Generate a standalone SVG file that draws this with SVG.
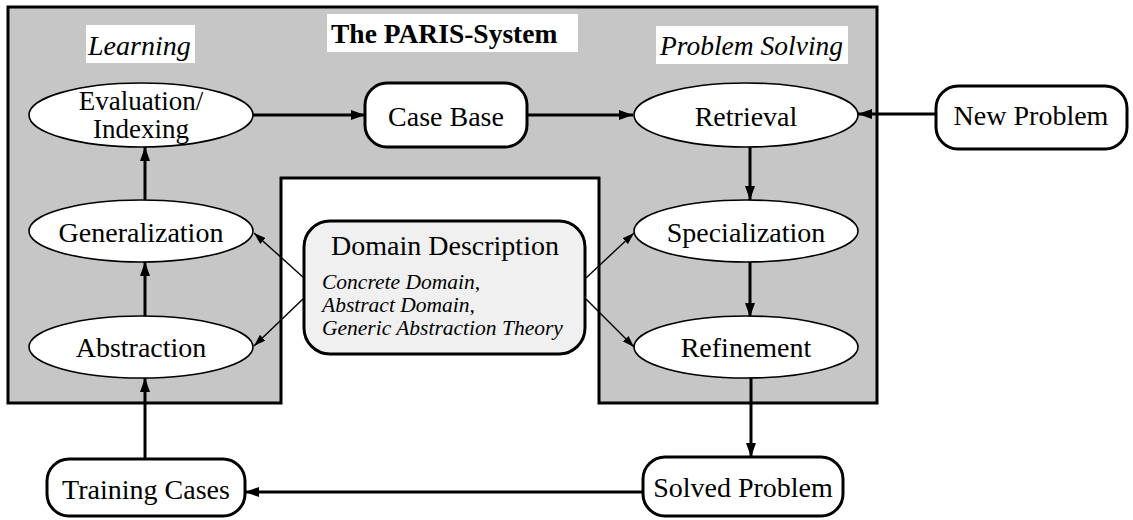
<svg xmlns="http://www.w3.org/2000/svg" width="1133" height="520" viewBox="0 0 1133 520" font-family="'Liberation Serif', 'Times New Roman', Times, serif">
<style>
text{font-family:'Liberation Serif','Times New Roman',Times,serif;fill:#000}
.lbl{font-size:28px;text-anchor:middle}
.it{font-size:21.5px;font-style:italic}
.ell{fill:#fff;stroke:#000;stroke-width:1.6}
.box{fill:#fff;stroke:#000;stroke-width:3}
.thick{stroke:#000;stroke-width:3;fill:none;marker-end:url(#ah)}
.thin{stroke:#000;stroke-width:1.4;fill:none;marker-end:url(#ahs)}
</style>
<defs>
<marker id="ah" viewBox="0 0 14 10" refX="14" refY="5" markerWidth="14" markerHeight="10" markerUnits="userSpaceOnUse" orient="auto"><path d="M0,0L14,5L0,10z" fill="#000"/></marker>
<marker id="ahs" viewBox="0 0 12 8" refX="12" refY="4" markerWidth="12" markerHeight="8" markerUnits="userSpaceOnUse" orient="auto"><path d="M0,0L12,4L0,8z" fill="#000"/></marker>
</defs>
<rect width="1133" height="520" fill="#fff"/>
<g id="system">
<path d="M8,7H877V403H599V178H281V403H8Z" fill="#c6c6c6" stroke="#000" stroke-width="3" stroke-linejoin="miter"/>
<rect x="327" y="14" width="251" height="38" fill="#fff"/>
<text x="331" y="43" style="font-size:27.5px;font-weight:bold">The PARIS-System</text>
<rect x="86" y="25" width="109" height="38" fill="#fff"/>
<text x="88" y="55" style="font-size:28px;font-style:italic">Learning</text>
<rect x="656" y="26" width="192" height="38" fill="#fff"/>
<text x="660" y="55" style="font-size:27.5px;font-style:italic">Problem Solving</text>
</g>
<g id="connectors">
<line class="thick" x1="253" y1="115" x2="365" y2="115"/>
<line class="thick" x1="527" y1="115" x2="633" y2="115"/>
<line class="thick" x1="936" y1="114" x2="858" y2="114"/>
<line class="thick" x1="750" y1="147" x2="750" y2="200"/>
<line class="thick" x1="750" y1="262" x2="750" y2="317"/>
<line class="thick" x1="751" y1="378" x2="751" y2="457"/>
<line class="thick" x1="643" y1="492" x2="245" y2="492"/>
<line class="thick" x1="145" y1="459" x2="145" y2="378"/>
<line class="thick" x1="145" y1="317" x2="145" y2="262"/>
<line class="thick" x1="145" y1="200" x2="145" y2="147"/>
<line class="thin" x1="304" y1="278" x2="254" y2="233"/>
<line class="thin" x1="304" y1="298" x2="254" y2="346"/>
<line class="thin" x1="586" y1="278" x2="634" y2="233"/>
<line class="thin" x1="586" y1="299" x2="634" y2="347"/>
</g>
<g id="evaluation">
<ellipse class="ell" cx="141" cy="115" rx="112" ry="32"/>
<text class="lbl" x="141" y="110" style="font-size:27px">Evaluation/</text>
<text class="lbl" x="141" y="138" style="font-size:27px">Indexing</text>
</g>
<g id="casebase">
<rect class="box" x="365" y="83" width="162" height="64" rx="22"/>
<text class="lbl" x="446" y="126">Case Base</text>
</g>
<g id="retrieval">
<ellipse class="ell" cx="746" cy="115" rx="112" ry="32"/>
<text class="lbl" x="746" y="126">Retrieval</text>
</g>
<g id="newproblem">
<rect class="box" x="936" y="86" width="191" height="63" rx="22"/>
<text class="lbl" x="1031" y="125">New Problem</text>
</g>
<g id="generalization">
<ellipse class="ell" cx="141" cy="231" rx="112" ry="31"/>
<text class="lbl" x="141" y="242">Generalization</text>
</g>
<g id="abstraction">
<ellipse class="ell" cx="141" cy="347" rx="112" ry="31"/>
<text class="lbl" x="141" y="357">Abstraction</text>
</g>
<g id="specialization">
<ellipse class="ell" cx="746" cy="231" rx="112" ry="31"/>
<text class="lbl" x="746" y="242">Specialization</text>
</g>
<g id="refinement">
<ellipse class="ell" cx="746" cy="347" rx="112" ry="31"/>
<text class="lbl" x="746" y="357">Refinement</text>
</g>
<g id="domain">
<rect x="304" y="221" width="281" height="133" rx="26" fill="#f0f0f0" stroke="#000" stroke-width="3"/>
<text class="lbl" x="445" y="255">Domain Description</text>
<text class="it" x="322" y="289">Concrete Domain,</text>
<text class="it" x="322" y="312">Abstract Domain,</text>
<text class="it" x="322" y="335">Generic Abstraction Theory</text>
</g>
<g id="solved">
<rect class="box" x="643" y="457" width="200" height="59" rx="22"/>
<text class="lbl" x="743" y="497">Solved Problem</text>
</g>
<g id="training">
<rect class="box" x="47" y="459" width="198" height="57" rx="22"/>
<text class="lbl" x="146" y="499">Training Cases</text>
</g>
</svg>
